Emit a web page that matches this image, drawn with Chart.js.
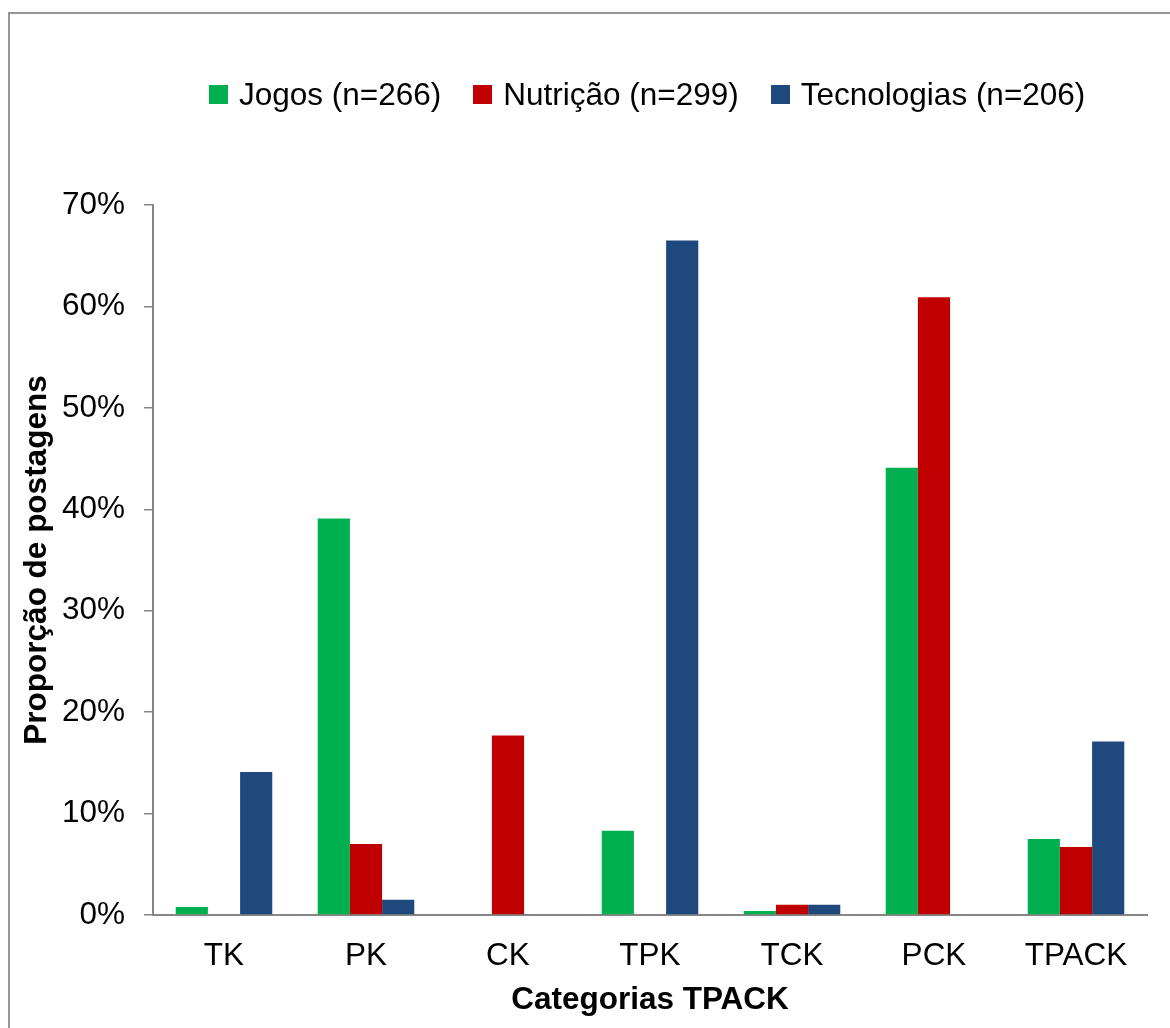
<!DOCTYPE html>
<html lang="pt">
<head>
<meta charset="utf-8">
<title>Categorias TPACK</title>
<script src="https://cdn.jsdelivr.net/npm/chart.js@4/dist/chart.umd.min.js"></script>
<style>
  html, body { margin: 0; padding: 0; background: #fff; }
  body { width: 1170px; height: 1028px; position: relative; overflow: hidden; }
  #frame {
    position: absolute; left: 8px; top: 12px; width: 1400px; height: 1400px;
    border-left: 2px solid #959595; border-top: 2px solid #959595;
    box-sizing: border-box;
  }
  #chart-wrap { position: absolute; left: 0; top: 0; width: 1170px; height: 1028px; }
  #legend {
    position: absolute; left: 209px; top: 76px;
    display: flex; align-items: center;
    font-family: "Liberation Sans", Arial, sans-serif; font-size: 31.5px; line-height: 1.2;
    color: #000; white-space: nowrap;
  }
  #legend .item { display: flex; align-items: center; margin-right: 32px; }
  #legend .item:last-child { margin-right: 0; }
  #legend .box { width: 19px; height: 19px; margin-right: 11px; }
</style>
</head>
<body>
<div id="frame"></div>
<div id="chart-wrap"><canvas id="c" width="1170" height="1028"></canvas></div>
<div id="legend"></div>
<script>
// Categorias do modelo TPACK
const categories = ['TK', 'PK', 'CK', 'TPK', 'TCK', 'PCK', 'TPACK'];

// Proporção de postagens (%) por grupo
const jogos       = [0.8, 39.1, 0, 8.3, 0.4, 44.1, 7.5];
const nutricao    = [0, 7.0, 17.7, 0, 1.0, 60.9, 6.7];
const tecnologias = [14.1, 1.5, 0, 66.5, 1.0, 0, 17.1];

const seriesNames = ['Jogos (n=266)', 'Nutrição (n=299)', 'Tecnologias (n=206)'];
const seriesColors = ['#00B050', '#C00000', '#1F497D'];

// Eixo Y: 0% a 70%, de 10 em 10
const yMin = 0, yMax = 70, yStep = 10;
const yTitle = 'Proporção de postagens';
const xTitle = 'Categorias TPACK';

const FONT = '"Liberation Sans", Arial, sans-serif';
const AXIS_GRAY = '#868686';

const datasets = [jogos, nutricao, tecnologias].map((values, i) => ({
  label: seriesNames[i],
  data: values,
  backgroundColor: seriesColors[i],
  borderWidth: 0
}));

const chart = new Chart(document.getElementById('c'), {
  type: 'bar',
  data: { labels: categories, datasets },
  options: {
    responsive: false,
    animation: false,
    events: [],
    layout: { padding: { top: 205, right: 23, bottom: 0, left: 0 } },
    datasets: { bar: { categoryPercentage: 0.68, barPercentage: 1.0 } },
    plugins: {
      legend: { display: false },
      tooltip: { enabled: false }
    },
    scales: {
      x: {
        grid: { display: false, drawTicks: false },
        border: { display: true, color: AXIS_GRAY, width: 2 },
        ticks: { color: '#000', font: { family: FONT, size: 31.5 }, padding: 22, maxRotation: 0 },
        title: {
          display: true, text: xTitle, color: '#000',
          font: { family: FONT, size: 31.5, weight: 'bold' },
          padding: { top: 0, bottom: 9 }
        },
        afterFit: (scale) => { scale.height = 113; }
      },
      y: {
        min: yMin, max: yMax,
        grid: {
          display: true, drawOnChartArea: false, drawTicks: true,
          tickLength: 9, color: AXIS_GRAY, lineWidth: 1.5
        },
        border: { display: true, color: AXIS_GRAY, width: 2 },
        ticks: {
          stepSize: yStep, color: '#000', padding: 19,
          font: { family: FONT, size: 31.5 },
          callback: (v) => v + '%'
        },
        title: {
          display: true, text: yTitle, color: '#000',
          font: { family: FONT, size: 31.5, weight: 'bold' },
          padding: { top: 18, bottom: 0 }
        },
        afterFit: (scale) => { scale.width = 153; }
      }
    }
  }
});

// Legenda em HTML, gerada a partir dos conjuntos de dados do gráfico
const legendEl = document.getElementById('legend');
chart.data.datasets.forEach((ds) => {
  const item = document.createElement('div');
  item.className = 'item';
  const box = document.createElement('span');
  box.className = 'box';
  box.style.background = ds.backgroundColor;
  const text = document.createElement('span');
  text.textContent = ds.label;
  item.appendChild(box);
  item.appendChild(text);
  legendEl.appendChild(item);
});
</script>
</body>
</html>
